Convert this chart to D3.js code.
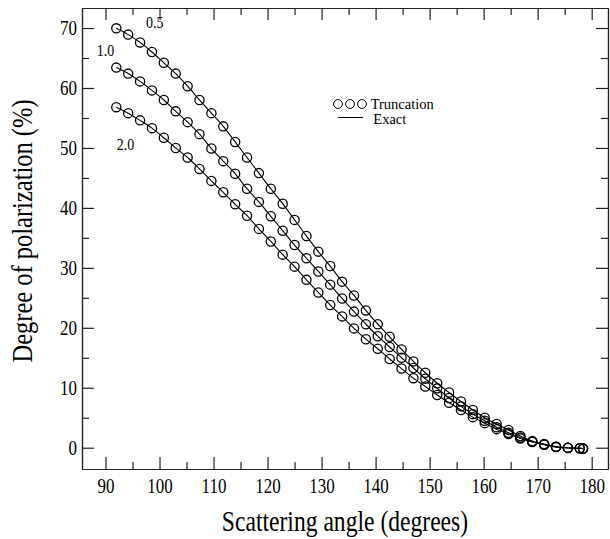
<!DOCTYPE html>
<html>
<head>
<meta charset="utf-8">
<script src="https://cdn.jsdelivr.net/npm/d3@7/dist/d3.min.js"></script>
<style>
  html, body { margin: 0; padding: 0; background: #fff; }
  svg text { font-family: "Liberation Serif", "Times New Roman", serif; }
  .axis path, .axis line { stroke: #222; stroke-width: 1.2; }
</style>
</head>
<body>
<div id="chart"></div>
<script>
// scattering angles (degrees) where the truncation results were sampled
const angles = [92.0, 94.2, 96.4, 98.6, 100.8, 103.0, 105.2, 107.4, 109.6, 111.8,
  114.0, 116.2, 118.4, 120.6, 122.8, 125.0, 127.2, 129.4, 131.6, 133.8,
  136.0, 138.2, 140.4, 142.6, 144.8, 147.0, 149.2, 151.4, 153.6, 155.8,
  158.0, 160.2, 162.4, 164.6, 166.8, 169.0, 171.2, 173.4, 175.6, 177.8, 178.4];

// degree of polarization (%) for each curve
const pol05 = [69.95, 68.9, 67.6, 66.0, 64.2, 62.4, 60.3, 58.0, 55.8, 53.6,
  51.0, 48.4, 45.8, 43.2, 40.7, 38.0, 35.3, 32.7, 30.3, 27.7,
  25.4, 22.9, 20.6, 18.5, 16.4, 14.4, 12.5, 10.75, 9.2, 7.7,
  6.3, 5.0, 3.96, 2.95, 1.95, 1.1, 0.6, 0.17, 0.0, -0.1, -0.15];
const pol10 = [63.4, 62.4, 61.1, 59.6, 58.0, 56.1, 54.3, 52.3, 49.9, 47.8,
  45.7, 43.2, 41.0, 38.6, 36.2, 33.8, 31.6, 29.4, 27.2, 24.9,
  22.7, 20.6, 18.6, 16.8, 15.0, 13.3, 11.5, 9.9, 8.3, 6.9,
  5.6, 4.5, 3.4, 2.5, 1.7, 1.0, 0.55, 0.15, 0.0, -0.1, -0.15];
const pol20 = [56.8, 55.8, 54.6, 53.3, 51.7, 50.0, 48.4, 46.5, 44.5, 42.6,
  40.6, 38.7, 36.5, 34.4, 32.2, 30.2, 28.0, 25.9, 23.8, 21.9,
  19.9, 18.1, 16.5, 14.8, 13.2, 11.6, 10.2, 8.8, 7.5, 6.3,
  5.1, 4.1, 3.1, 2.3, 1.55, 0.95, 0.5, 0.1, -0.05, -0.1, -0.15];

const seriesNames = ["0.5", "1.0", "2.0"];
const seriesValues = [pol05, pol10, pol20];
// where each curve name is written, in data units
const labelAngle = [97.5, 88.4, 92.1];
const labelValue = [70.0, 65.4, 49.6];

const xMajor = [90, 100, 110, 120, 130, 140, 150, 160, 170, 180];
const xMinor = [95, 105, 115, 125, 135, 145, 155, 165, 175];
const yMajor = [0, 10, 20, 30, 40, 50, 60, 70];
const yMinor = [5, 15, 25, 35, 45, 55, 65];

const legendItems = ["Truncation", "Exact"];

const width = 610, height = 539;
const margin = { left: 82, right: 608, top: 8, bottom: 469 };
const serif = "Liberation Serif, Times New Roman, serif";

const svg = d3.select("#chart").append("svg")
    .attr("width", width)
    .attr("height", height);

const x = d3.scaleLinear().domain([85.65, 183.02]).range([margin.left, margin.right]);
const y = d3.scaleLinear().domain([-3.55, 73.34]).range([margin.bottom, margin.top]);

function addAxis(axisFn, scale, values, size, tx, ty, labels) {
    const g = svg.append("g")
        .attr("class", "axis")
        .attr("transform", `translate(${tx},${ty})`)
        .call(axisFn(scale).tickValues(values).tickSizeInner(-size).tickSizeOuter(0)
            .tickFormat(labels ? d3.format("d") : ""));
    g.attr("font-family", serif);
    g.selectAll("text")
        .attr("fill", "#000")
        .attr("font-family", serif)
        .attr("font-size", 17);
    return g;
}

// minor ticks on all sides
addAxis(d3.axisBottom, x, xMinor, 7, 0, margin.bottom, false);
addAxis(d3.axisTop, x, xMinor, 7, 0, margin.top, false);
addAxis(d3.axisLeft, y, yMinor, 7, margin.left, 0, false);
addAxis(d3.axisRight, y, yMinor, 7, margin.right, 0, false);

// major ticks, with labels at bottom and left
const xAxis = addAxis(d3.axisBottom, x, xMajor, 12, 0, margin.bottom, true);
xAxis.selectAll("text")
    .attr("dy", null)
    .attr("y", 23.7 / 1.2)
    .attr("transform", "scale(1,1.2)");
addAxis(d3.axisTop, x, xMajor, 12, 0, margin.top, false);
const yAxis = addAxis(d3.axisLeft, y, yMajor, 12, margin.left, 0, true);
yAxis.selectAll("text")
    .attr("dy", null)
    .attr("x", -5)
    .attr("y", 5.6)
    .attr("transform", "scale(1,1.2)");
addAxis(d3.axisRight, y, yMajor, 12, margin.right, 0, false);

// curves
const line = d3.line()
    .x((d, i) => x(angles[i]))
    .y(d => y(d))
    .curve(d3.curveMonotoneX);

seriesValues.forEach((vals, k) => {
    svg.append("path")
        .datum(vals)
        .attr("d", line)
        .attr("fill", "none")
        .attr("stroke", "#000")
        .attr("stroke-width", 1.1);

    svg.append("g")
        .selectAll("circle")
        .data(vals)
        .enter().append("circle")
        .attr("cx", (d, i) => x(angles[i]))
        .attr("cy", d => y(d))
        .attr("r", 4.6)
        .attr("fill", "none")
        .attr("stroke", "#000")
        .attr("stroke-width", 1.3);

    svg.append("text")
        .attr("transform", `translate(${x(labelAngle[k])},${y(labelValue[k])}) scale(1,1.2)`)
        .attr("font-size", 14)
        .attr("fill", "#000")
        .text(seriesNames[k]);
});

// legend
const legend = svg.append("g").attr("transform", "translate(338,104)");
legend.selectAll("circle")
    .data([0, 1, 2])
    .enter().append("circle")
    .attr("cx", d => d * 12)
    .attr("cy", 0)
    .attr("r", 4.4)
    .attr("fill", "none")
    .attr("stroke", "#000")
    .attr("stroke-width", 1);
legend.append("line")
    .attr("x1", 0).attr("x2", 25)
    .attr("y1", 13.5).attr("y2", 13.5)
    .attr("stroke", "#000")
    .attr("stroke-width", 1);
legend.selectAll("text")
    .data(legendItems)
    .enter().append("text")
    .attr("x", (d, i) => i === 0 ? 32.7 : 35.3)
    .attr("y", (d, i) => i === 0 ? 5.3 : 20)
    .attr("font-size", 14.5)
    .attr("fill", "#000")
    .text(d => d);

// axis titles
svg.append("text")
    .attr("transform", "translate(345,531) scale(1,1.22)")
    .attr("text-anchor", "middle")
    .attr("font-size", 23.6)
    .attr("fill", "#000")
    .text("Scattering angle (degrees)");

svg.append("text")
    .attr("transform", "translate(31.7,231) rotate(-90) scale(1,1.2)")
    .attr("text-anchor", "middle")
    .attr("font-size", 24.5)
    .attr("fill", "#000")
    .text("Degree of polarization (%)");
</script>
</body>
</html>
